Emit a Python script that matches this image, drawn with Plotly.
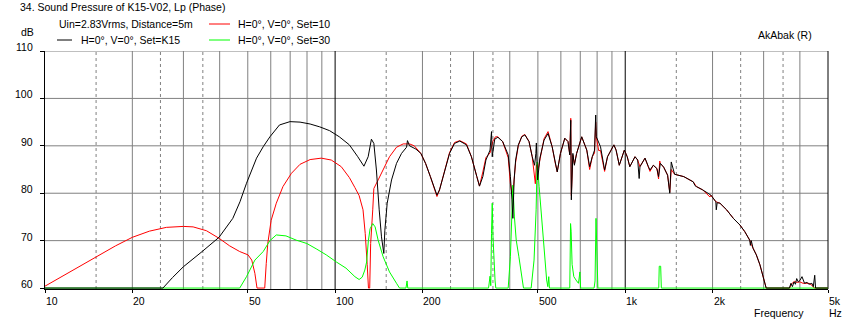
import math
import plotly.graph_objects as go

# ---------------- measured response data ----------------
# Set=K15 (black)
k15_freq = [10, 25.5, 27.5, 30, 34.8, 39.8, 44.4, 47, 49.5, 53.6, 56.5, 59.6, 64.3, 69.9, 75.7,
            82, 88.5, 95.7, 103.4, 112, 119.7, 125.7, 130, 133.4, 136, 138.8, 141.9, 144.5,
            147.2, 148.4, 151.2, 156.5, 162.8, 169.4, 176.3, 177.6, 180.6, 190, 197.5, 205,
            213, 222, 224.4, 229, 238.6, 248, 258, 269, 283.6, 295, 308, 314.5, 323, 331,
            342, 346, 348, 355, 364, 378, 395, 402, 407, 410, 414, 419, 428, 440, 451, 466,
            478, 487, 492, 494, 499, 508, 525, 542, 560, 574, 583, 598, 619, 635, 644, 649,
            652, 660, 668, 680, 708, 737, 754, 770, 784, 791, 795, 822, 837, 849, 869, 914,
            930, 954, 993, 1016, 1037, 1081, 1104, 1117, 1124, 1170, 1202, 1217, 1250, 1286,
            1303, 1321, 1357, 1400, 1424, 1441, 1480, 1592, 1716, 1740, 1760, 1850, 1974,
            2053, 2060, 2075, 2121, 2236, 2359, 2486, 2583, 2686, 2700, 2720, 2757, 2831,
            2913, 2992, 3061, 3680, 3726, 3770, 3817, 3860, 3900, 3950, 4000, 4068, 4150,
            4230, 4300, 4400, 4450, 4500, 4530, 5000]
k15_db = [60, 60, 62.2, 64.5, 67.7, 70.7, 74.7, 78.2, 82.1, 87.4, 89.8, 91.9, 94.4, 95.1, 95.0,
          94.6, 94.0, 93.2, 91.9, 90.2, 87.7, 85.7, 87.7, 91.4, 90.5, 84.9, 76.5, 70.8,
          67.3, 72.2, 77.9, 82.8, 86.3, 88.4, 89.7, 91.1, 90.0, 89.3, 88.4, 86.3,
          83.5, 80.7, 79.6, 80.7, 84.9, 88.4, 90.5, 91.0, 90.2, 87.7, 83.5, 81.5, 83.5, 87.0,
          89.1, 93.0, 87.7, 91.4, 91.8, 90.9, 88.1, 83.5, 78.6, 74.7, 82.8, 87.0, 90.2, 91.9, 92.3, 90.9,
          87.7, 85.9, 88.4, 90.6, 82.8, 87.4, 91.2, 92.6, 89.8, 86.3, 84.5, 88.4, 91.6, 90.9, 88.1, 95.4,
          78.6, 88.4, 85.9, 88.4, 91.9, 89.1, 85.6, 87.7, 89.1, 96.5, 91.9, 89.8, 87.0, 84.9, 87.7, 90.2,
          89.1, 85.9, 89.1, 87.7, 85.6, 87.7, 87.0, 83.1, 85.6, 87.4, 85.6, 84.9, 85.9, 85.2,
          83.5, 86.3, 85.5, 83.8, 80.0, 86.6, 84.0, 83.5, 82.4, 81.6, 81.4, 80.7, 79.6,
          78.2, 76.5, 78.0, 77.9, 76.5, 74.7, 73.3, 71.9, 70.1, 69.0, 70.0, 68.4, 67.0,
          64.9, 62.4, 60, 60, 61.0, 60.3, 61.3, 60.8, 62.0, 61.3, 61.6, 62.4, 61.0,
          61.2, 60.8, 61.0, 60.3, 62.7, 60.0, 60]

# Set=10 (red)
set10_freq = [10, 12.5, 15, 17.5, 20, 22.9, 26.2, 30, 32.4, 36, 39.8, 43.3, 46.9, 50.1, 51.6,
              52.9, 53.8, 57.2, 57.9, 58.6, 60.2, 62.7, 66.1, 70.7, 75.7, 82, 89.6, 97, 105,
              112, 117, 121, 124.8, 127, 129, 130.3, 131.6, 132.6, 134.8, 136, 140.7, 146.4,
              154, 162.8, 171.6, 180.6, 187.4, 197.5, 205, 213, 222, 224.4, 229, 238.6, 248,
              258, 269, 283.6, 295, 308, 314.5, 323, 331, 342, 350, 357, 364, 378, 395, 402,
              407, 411, 414, 419, 428, 440, 451, 466, 478, 485, 490, 494, 499, 508, 525, 542,
              560, 574, 583, 598, 619, 635, 644, 649, 652, 660, 668, 680, 708, 737, 754, 770,
              784, 791, 795, 810, 822, 837, 849, 869, 914, 930, 954, 993, 1016, 1037, 1081,
              1104, 1124, 1170, 1202, 1217, 1250, 1286, 1303, 1315, 1321, 1357, 1400, 1424,
              1441, 1480, 1592, 1716, 1760, 1850, 1960, 1974, 2053, 2121, 2236, 2359, 2486,
              2583, 2686, 2720, 2757, 2831, 2913, 2992, 3061, 3690, 3730, 3830, 3900, 4000,
              4100, 4300, 4400, 4480, 5000]
set10_db = [60.4, 63.8, 66.5, 68.9, 70.7, 72.0, 72.8, 73.0, 72.9, 72.1, 70.5, 68.9, 67.7, 67.0, 65.9,
            63.1, 60, 60, 65.2, 69.4, 74.3, 77.9, 81.4, 84.2, 86.1, 87.1, 87.4, 87.0, 85.6,
            83.3, 81.2, 79.5, 76.5, 71.5, 65, 60, 60, 69.4, 76.5, 81.0, 82.8, 84.9,
            87.7, 89.7, 90.4, 90.4, 90.0, 88.4, 86.3, 83.5, 80.5, 79.3, 80.7, 84.9, 88.6,
            90.7, 91.1, 90.4, 87.7, 83.5, 81.5, 84.5, 87.5, 88.5, 91.0, 91.9, 91.9, 90.9, 87.5, 82.0,
            80.0, 80.5, 83.0, 86.5, 90.0, 92.0, 92.4, 90.9, 87.7, 84.0, 82.0, 86.0, 84.5, 87.0, 91.5, 93.0,
            89.8, 86.3, 84.5, 88.4, 91.6, 90.9, 88.1, 95.8, 79.5, 88.0, 86.2, 88.4, 91.9, 89.1, 85.0, 87.7,
            88.5, 95.0, 91.9, 89.0, 89.0, 86.5, 84.6, 87.7, 90.2, 89.1, 85.9, 89.1, 87.7, 85.6, 87.7,
            87.0, 85.6, 87.4, 85.6, 84.6, 85.9, 85.2, 83.0, 86.8, 86.3, 85.5, 83.8, 80.2,
            85.0, 84.0, 83.5, 82.4, 81.4, 80.7, 79.2, 79.6, 78.2, 77.9, 76.5, 74.7, 73.3,
            71.9, 70.1, 69.2, 68.4, 67.0, 64.9, 62.4, 60, 60, 60.8, 61.4, 61.2, 61.3,
            61.0, 61.0, 60.6, 60.0, 60]

# Set=30 (green)
set30_freq = [10, 46.9, 49.5, 52.9, 56.5, 59.6, 62.7, 67.7, 73.5, 79.9, 86.5, 93.2, 101, 109,
              117, 121, 124, 126.6, 128.4, 130.2, 132, 134.8, 137.4, 140.7, 146.4, 154, 162.8,
              166.7, 175.5, 177, 178, 338, 342, 344, 346, 348, 350, 353, 356, 358, 395, 402,
              407, 410, 415, 421, 430, 440, 446, 474, 485, 493, 497, 505, 513, 522, 530, 536,
              541, 545, 548, 644, 648, 651, 656, 665, 680, 690, 698, 702, 781, 787, 793, 797,
              805, 1305, 1310, 1325, 1332, 5000]
set30_db = [60, 60, 62.4, 65.9, 67.7, 70.0, 71.2, 71.0, 70.1, 69.4, 68.2, 67.0, 65.5, 64.2,
            62.4, 61.8, 62.3, 63.8, 65.5, 70.0, 72.5, 73.6, 72.9, 70.1, 66.6, 63.4, 61.0,
            60, 60, 61.5, 60, 60, 62.5, 60.5, 71.5, 77.9, 71.0, 64.0, 61.5, 60, 60, 66.6,
            78.6, 81.7, 75.0, 70.1, 66.6, 61.7, 60, 60, 65.9, 76.5, 86.6, 81.4, 75.8, 70.1, 65.2, 61.7,
            60.3, 62.4, 60, 60, 73.6, 72.0, 65.0, 62.4, 61.5, 61.0, 63.4, 60, 60, 61.5, 74.7, 67.0,
            60, 60, 64.6, 64.6, 60, 60]

series_names = ["H=0°, V=0°, Set=K15", "H=0°, V=0°, Set=10", "H=0°, V=0°, Set=30"]

# axis ticks and grid
x_tick_vals = [10, 20, 50, 100, 200, 500, 1000, 2000, 5000]
x_tick_text = ["10", "20", "50", "100", "200", "500", "1k", "2k", "5k"]
y_tick_vals = [60, 70, 80, 90, 100, 110]
y_grid_vals = [70, 80, 90, 100]
x_grid_solid = [20, 30, 40, 50, 60, 70, 80, 90, 200, 300, 400, 500, 600, 700, 800, 900,
                2000, 3000, 4000]
x_grid_dashed = [15, 25, 35, 150, 250, 350, 1500, 2500, 3500]
x_grid_major = [100, 1000]

# ---------------- figure ----------------
W, H = 854, 325
ML, MR, MT, MB = 45, 26, 51, 36
PW, PH = W - ML - MR, H - MT - MB
GREY = "#808080"
FONT = "Liberation Sans, Arial, sans-serif"
FS = 10.5
Y_LO, Y_HI = 59.8, 110


def px(x):
    return (x - ML) / PW


def py(y):
    return (H - MB - y) / PH


fig = go.Figure()
trace_styles = [
    (set10_freq, set10_db, "#ff0000", series_names[1]),
    (set30_freq, set30_db, "#00ff00", series_names[2]),
    (k15_freq, k15_db, "#000000", series_names[0]),
]
for fx, fy, col, name in trace_styles:
    fig.add_trace(go.Scatter(x=fx, y=fy, mode="lines", name=name,
                             line=dict(color=col, width=1),
                             showlegend=False, hoverinfo="skip"))

shapes = []
for v in y_grid_vals:
    shapes.append(dict(type="line", xref="paper", yref="y", x0=0, x1=1, y0=v, y1=v,
                       line=dict(color=GREY, width=1), layer="below"))
shapes.append(dict(type="line", xref="paper", yref="y", x0=0, x1=1, y0=Y_HI, y1=Y_HI,
                   line=dict(color=GREY, width=1), layer="below"))
for v in x_grid_solid:
    shapes.append(dict(type="line", xref="x", yref="paper", x0=v, x1=v, y0=0, y1=1,
                       line=dict(color=GREY, width=1), layer="below"))
for v in x_grid_dashed:
    shapes.append(dict(type="line", xref="x", yref="paper", x0=v, x1=v, y0=0, y1=1,
                       line=dict(color=GREY, width=1, dash="3px,3px"), layer="below"))
for v in x_grid_major:
    shapes.append(dict(type="line", xref="x", yref="paper", x0=v, x1=v, y0=0, y1=1,
                       line=dict(color="#000000", width=1), layer="below"))
# right frame edge
shapes.append(dict(type="line", xref="paper", yref="paper", x0=1, x1=1, y0=0, y1=1,
                   line=dict(color="#000000", width=1), layer="below"))

# legend samples
legend_items = [
    (series_names[0], "#000000", 57, 72, 40, 79),
    (series_names[1], "#ff0000", 209, 230, 24, 236),
    (series_names[2], "#00ff00", 209, 230, 40, 236),
]
annotations = []
for name, col, x0, x1, yy, tx in legend_items:
    shapes.append(dict(type="line", xref="paper", yref="paper", x0=px(x0), x1=px(x1),
                       y0=py(yy), y1=py(yy), line=dict(color=col, width=1)))
    annotations.append(dict(text=name, xref="paper", yref="paper", x=px(tx), y=py(yy),
                            xanchor="left", yanchor="middle", showarrow=False))


def label(text, x, y, anchor="left"):
    annotations.append(dict(text=text, xref="paper", yref="paper", x=px(x), y=py(y),
                            xanchor=anchor, yanchor="middle", showarrow=False))


label("34. Sound Pressure of K15-V02, Lp (Phase)", 18, 7)
label("Uin=2.83Vrms, Distance=5m", 57, 24)
label("dB", 36, 32, "right")
label("AkAbak (R)", 756, 35)
label("Frequency", 752, 313)
label("Hz", 827, 313)

for v, t in zip(x_tick_vals, x_tick_text):
    annotations.append(dict(text=t, xref="x", yref="paper", x=math.log10(v), y=0,
                            yshift=-12, xanchor="left", yanchor="middle", xshift=-1,
                            showarrow=False))
for v in y_tick_vals:
    annotations.append(dict(text=str(v), xref="paper", yref="y", x=0, y=v,
                            xshift=-10, yshift=4, xanchor="right", yanchor="middle",
                            showarrow=False))

fig.update_layout(
    width=W, height=H,
    margin=dict(l=ML, r=MR, t=MT, b=MB, pad=0),
    paper_bgcolor="#ffffff", plot_bgcolor="#ffffff",
    font=dict(family=FONT, size=FS, color="#000000"),
    shapes=shapes, annotations=annotations,
    showlegend=False,
)
fig.update_xaxes(type="log", range=[1, math.log10(5000)], showgrid=False, zeroline=False,
                 showline=True, linecolor="#000000", linewidth=1, ticks="outside",
                 ticklen=3, tickcolor="#000000", tickvals=x_tick_vals,
                 showticklabels=False, layer="below traces")
fig.update_yaxes(range=[Y_LO, Y_HI], showgrid=False, zeroline=False,
                 showline=True, linecolor="#000000", linewidth=1, ticks="outside",
                 ticklen=4, tickcolor="#000000", tickvals=y_tick_vals,
                 showticklabels=False, layer="below traces")

fig.write_html("out.html")
